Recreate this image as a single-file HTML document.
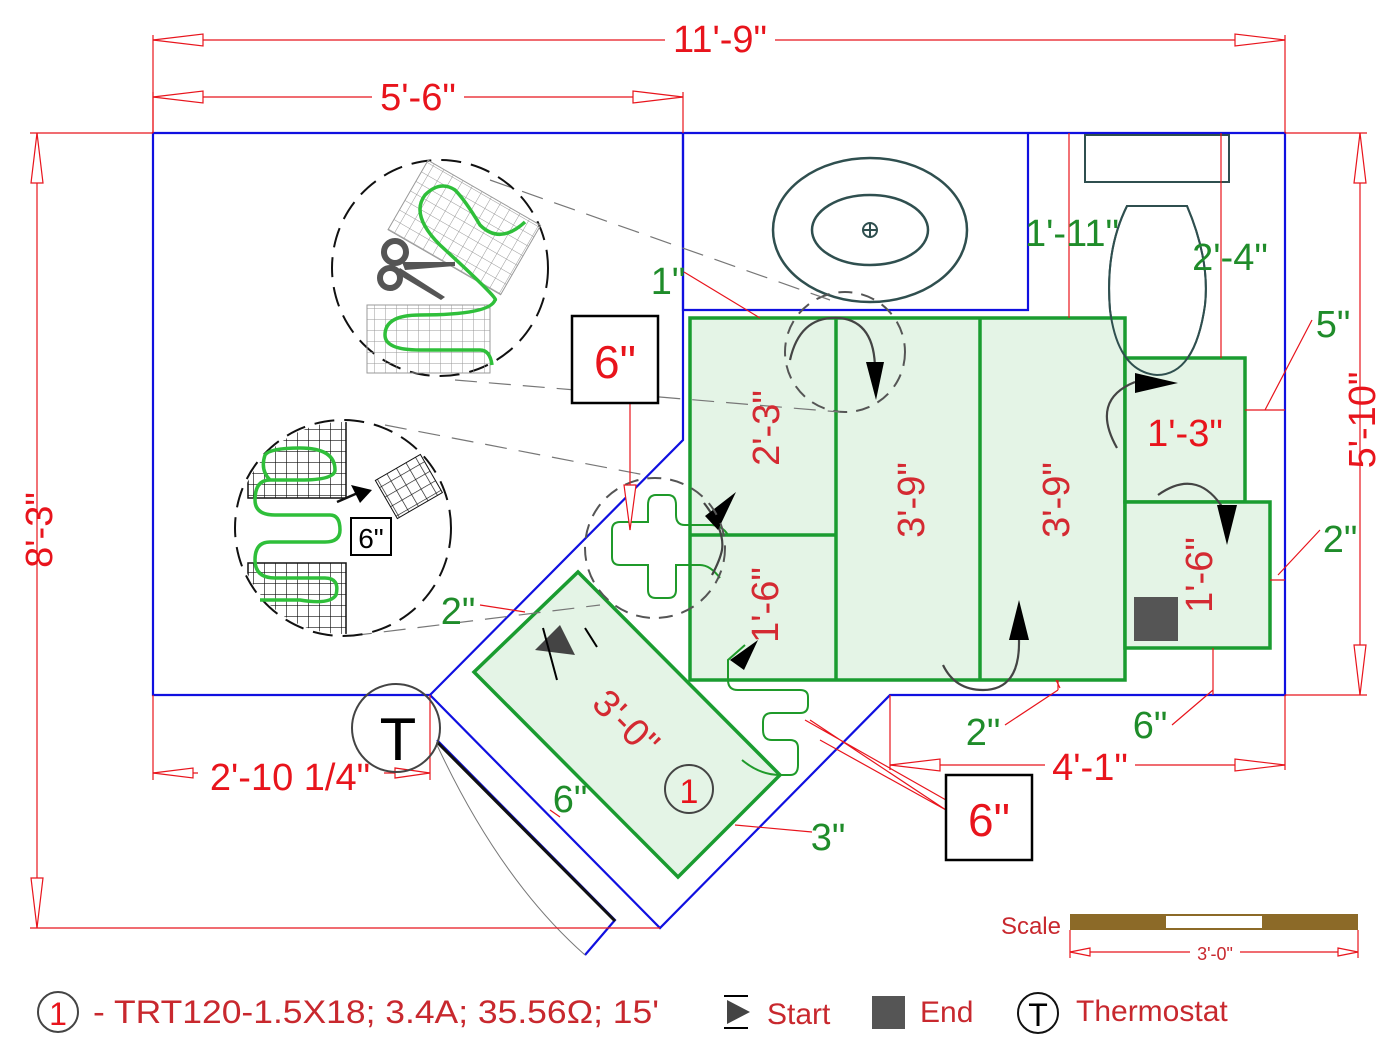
<!DOCTYPE html>
<html><head><meta charset="utf-8"><style>
html,body{margin:0;padding:0;background:#fff;}
svg{display:block;font-family:"Liberation Sans",sans-serif;}
.r{fill:#e8141c}
.g{fill:#1f8c2a}
.dl{stroke:#e8141c;stroke-width:1.2;fill:none}
.ar{stroke:#e8141c;stroke-width:1.2;fill:#fff}
.bl{stroke:#1010e0;stroke-width:2.2;fill:none}
.gz{stroke:#1a9c30;stroke-width:3.5;fill:#e4f4e6}
.ds{stroke:#555;stroke-width:2;fill:none;stroke-dasharray:14 9}
.db{stroke:#111;stroke-width:2;fill:none;stroke-dasharray:20 10}
.gl{stroke:#777;stroke-width:1.2;fill:none;stroke-dasharray:22 12}
.cab{stroke:#2fbf3a;stroke-width:3.5;fill:none}
.cabd{stroke:#1f9a2a;stroke-width:2;fill:none}
.curv{stroke:#444;stroke-width:2.2;fill:none}
</style></head><body>
<svg width="1400" height="1049" viewBox="0 0 1400 1049" xmlns="http://www.w3.org/2000/svg">
<defs>
<pattern id="gg" width="11" height="11" patternUnits="userSpaceOnUse"><path d="M0 0H11M0 0V11" stroke="#999" stroke-width="1" fill="none"/></pattern>
<pattern id="gb" width="11" height="11" patternUnits="userSpaceOnUse"><path d="M0 0H11M0 0V11" stroke="#111" stroke-width="1.3" fill="none"/></pattern>
</defs>

<!-- walls -->
<path class="bl" d="M153 133H1285V695H890L660 928L430 695H153Z"/>
<path class="bl" d="M683 133V440L430 695"/>
<path class="bl" d="M683 133V310H1028V133"/>
<path class="bl" d="M437 740L615 920L585 955"/>
<path d="M437 742L615 921" stroke="#111" stroke-width="3"/>
<path d="M437 745Q500 880 585 955" stroke="#777" stroke-width="1" fill="none"/>

<!-- vanity -->
<ellipse cx="870" cy="230" rx="97" ry="72" fill="none" stroke="#2f4f4f" stroke-width="2.5"/>
<ellipse cx="870" cy="230" rx="58" ry="35" fill="none" stroke="#2f4f4f" stroke-width="2.5"/>
<circle cx="870" cy="230" r="7" fill="none" stroke="#2f4f4f" stroke-width="2"/><path d="M863 230H877M870 223V237" stroke="#2f4f4f" stroke-width="2"/>
<!-- toilet -->
<rect x="1085" y="135" width="144" height="47" fill="none" stroke="#2f4f4f" stroke-width="2"/>
<path d="M1127 206H1187Q1210 260 1205 305Q1195 375 1157 375Q1118 372 1110 310Q1105 250 1127 206Z" fill="none" stroke="#2f4f4f" stroke-width="2"/>

<!-- green zones -->
<path class="gz" d="M690 318H1125V680H690Z"/>
<path d="M836 318V680M980 318V680M690 535H836" stroke="#1a9c30" stroke-width="3.5"/>
<path class="gz" d="M1125 358H1245V502H1125Z"/>
<path class="gz" d="M1125 502H1270V648H1125Z"/>
<path class="gz" d="M578 572L780 775L678 877L474 672Z"/>
<rect x="1134" y="597" width="44" height="44" fill="#555"/>

<!-- toilet bowl over zone -->
<path d="M1127 206H1187Q1210 260 1205 305Q1195 375 1157 375Q1118 372 1110 310Q1105 250 1127 206Z" fill="none" stroke="#2f4f4f" stroke-width="2"/>

<!-- cable wiggle -->
<path class="cabd" d="M742 760Q760 775 780 775H790Q798 775 798 765V748Q798 740 790 740H772Q763 740 763 730V722Q763 713 772 713H800Q808 713 808 705V697Q808 690 800 690H738Q728 690 728 680V660L745 645"/>
<path class="cabd" d="M728 535Q722 525 710 525H685Q676 525 676 515V505Q676 495 668 495H656Q648 495 648 505V522H620Q612 522 612 530V557Q612 565 620 565H648V590Q648 598 656 598H668Q676 598 676 590V565H700Q710 565 720 578"/>

<!-- curved arrows -->
<path class="curv" d="M790 360Q800 315 840 318Q875 322 875 370"/>
<path d="M866 362L884 362L876 400Z" fill="#000"/>
<path class="curv" d="M1117 448Q1090 400 1135 382"/>
<path d="M1135 373L1178 383L1135 393Z" fill="#000"/>
<path class="curv" d="M1158 495Q1200 465 1227 515"/>
<path d="M1217 505L1237 505L1227 545Z" fill="#000"/>
<path class="curv" d="M943 665Q955 690 983 690Q1020 690 1019 640"/>
<path d="M1009 640L1029 640L1019 600Z" fill="#000"/>
<path class="curv" d="M704 503Q725 530 722 550Q720 560 712 575"/>
<path d="M705 516L736 492L718 530Z" fill="#000"/>
<path d="M730 660L758 640L744 670Z" fill="#000"/>
<path d="M560 625L575 655L535 650Z" fill="#444"/>
<path d="M543 628L557 680" stroke="#000" stroke-width="2"/>
<path d="M585 628L597 647" stroke="#000" stroke-width="2"/>

<!-- dashed circles -->
<circle cx="845" cy="352" r="60" class="ds"/>
<circle cx="655" cy="548" r="70" class="ds"/>
<path class="gl" d="M490 180L830 300M455 380L840 412M385 425L650 476M350 636L600 605"/>
<circle cx="440" cy="268" r="108" class="db"/>
<circle cx="343" cy="528" r="108" class="db"/>

<!-- circle 1 content -->
<g transform="rotate(30 460 225)"><rect x="400" y="185" width="130" height="80" fill="url(#gg)" stroke="#999"/></g>
<rect x="367" y="305" width="123" height="68" fill="url(#gg)" stroke="#999"/>
<path class="cab" d="M525 222Q500 245 480 225Q465 200 455 190Q440 180 425 195Q410 215 440 245Q500 300 495 300Q490 315 420 315Q385 315 385 335Q385 350 420 350H480Q490 350 492 365"/>
<g fill="#555" stroke="none">
<circle cx="395" cy="252" r="11" fill="none" stroke="#555" stroke-width="6"/>
<circle cx="390" cy="278" r="10" fill="none" stroke="#555" stroke-width="6"/>
<path d="M402 262L455 262L455 266L405 270Z"/>
<path d="M400 268L445 297L441 300L396 273Z"/>
</g>
<!-- circle 2 content -->
<clipPath id="c2"><circle cx="343" cy="528" r="106"/></clipPath>
<g clip-path="url(#c2)">
<rect x="248" y="420" width="98" height="78" fill="url(#gb)" stroke="#111" stroke-width="1.5"/>
<rect x="248" y="563" width="98" height="78" fill="url(#gb)" stroke="#111" stroke-width="1.5"/>
</g>
<g transform="rotate(-30 408 487)"><rect x="383" y="465" width="52" height="44" fill="url(#gb)" stroke="#111"/></g>
<path class="cab" d="M270 480Q260 470 265 455Q270 448 300 448Q335 448 335 470Q335 480 300 480H270Q255 480 255 500Q255 515 275 515H330Q340 515 340 530Q340 542 325 542H270Q255 542 255 560Q255 578 275 578H325Q340 578 336 595Q330 605 300 600H260"/>
<path d="M337 502L360 492" stroke="#111" stroke-width="2.5"/><path d="M351 485L372 490L360 503Z" fill="#000"/>
<rect x="351" y="518" width="40" height="37" fill="#fff" stroke="#000" stroke-width="2"/>
<text x="371" y="548" font-size="28" text-anchor="middle">6"</text>

<!-- dimension lines -->
<g class="dl">
<path d="M153 35V133M1285 35V133M153 40H1285"/>
<path d="M153 92V133M683 92V133M153 97H683"/>
<path d="M30 133H153M30 928H660M37 133V928"/>
<path d="M1285 133H1367M1285 695H1367M1360 133V695"/>
<path d="M153 695V780M430 695V780M153 773H430"/>
<path d="M890 695V770M1285 695V770M890 765H1285"/>
<path d="M1069 133V318M1221 133V358"/>
<path d="M684 272L760 318M1245 410H1285M1265 410L1312 320M1270 580H1285M1278 575L1320 530M1213 648V695M1213 690L1172 725M1058 680V690M1058 690L1005 725"/>
<path d="M1056 680L1060 688"/>
<path d="M480 605L525 612M735 825L812 832M560 817L550 810"/>
<path d="M630 403V530M946 810L810 720M946 800L805 720M946 810L820 740"/>
<path d="M1070 930V958M1358 930V958M1070 952H1358"/>
</g>
<g class="ar">
<path d="M153 40L203 34V46Z"/><path d="M1285 40L1235 34V46Z"/>
<path d="M153 97L203 91V103Z"/><path d="M683 97L633 91V103Z"/>
<path d="M37 133L31 183H43Z"/><path d="M37 928L31 878H43Z"/>
<path d="M1360 133L1354 183H1366Z"/><path d="M1360 695L1354 645H1366Z"/>
<path d="M153 773L193 768V778Z"/><path d="M430 773L395 768V778Z"/>
<path d="M890 765L940 759V771Z"/><path d="M1285 765L1235 759V771Z"/>
<path d="M630 530L624 485H636Z"/>
<path d="M1070 952L1090 948V956Z"/><path d="M1358 952L1338 948V956Z"/>
</g>

<!-- red dimension texts -->
<g class="r" font-size="38">
<rect x="665" y="22" width="110" height="34" fill="#fff"/>
<text x="720" y="52" text-anchor="middle">11'-9"</text>
<rect x="372" y="80" width="92" height="34" fill="#fff"/>
<text x="418" y="110" text-anchor="middle">5'-6"</text>
<text transform="translate(52 530) rotate(-90)" text-anchor="middle">8'-3"</text>
<text transform="translate(1375 420) rotate(-90)" text-anchor="middle">5'-10"</text>
<rect x="198" y="758" width="186" height="32" fill="#fff"/>
<text x="290" y="790" text-anchor="middle">2'-10 1/4"</text>
<rect x="1045" y="748" width="90" height="32" fill="#fff"/>
<text x="1090" y="780" text-anchor="middle">4'-1"</text>
<text x="1185" y="446" text-anchor="middle">1'-3"</text>
</g>
<g fill="#d42a32" font-size="38">
<text transform="translate(779 428) rotate(-90)" text-anchor="middle">2'-3"</text>
<text transform="translate(924 500) rotate(-90)" text-anchor="middle">3'-9"</text>
<text transform="translate(1069 500) rotate(-90)" text-anchor="middle">3'-9"</text>
<text transform="translate(778 605) rotate(-90)" text-anchor="middle">1'-6"</text>
<text transform="translate(1212 575) rotate(-90)" text-anchor="middle">1'-6"</text>
<text transform="translate(617 732) rotate(45)" text-anchor="middle">3'-0"</text>
</g>
<!-- green dims -->
<g class="g" font-size="38">
<text x="668" y="294" text-anchor="middle">1"</text>
<text x="1072" y="246" text-anchor="middle">1'-11"</text>
<text x="1230" y="270" text-anchor="middle">2'-4"</text>
<text x="1333" y="337" text-anchor="middle">5"</text>
<text x="1340" y="552" text-anchor="middle">2"</text>
<text x="1150" y="738" text-anchor="middle">6"</text>
<text x="983" y="745" text-anchor="middle">2"</text>
<text x="828" y="850" text-anchor="middle">3"</text>
<text x="570" y="812" text-anchor="middle">6"</text>
<text x="458" y="624" text-anchor="middle">2"</text>
</g>

<!-- 6" boxes -->
<rect x="572" y="316" width="86" height="87" fill="#fff" stroke="#000" stroke-width="2.5"/>
<text x="615" y="378" font-size="46" text-anchor="middle" class="r">6"</text>
<rect x="946" y="775" width="86" height="85" fill="#fff" stroke="#000" stroke-width="2.5"/>
<text x="989" y="836" font-size="46" text-anchor="middle" class="r">6"</text>

<!-- thermostat & 1 -->
<circle cx="396" cy="728" r="44" fill="none" stroke="#444" stroke-width="2"/>
<text x="398" y="760" font-size="60" text-anchor="middle">T</text>
<circle cx="689" cy="789" r="24" fill="none" stroke="#444" stroke-width="2"/>
<text x="689" y="803" font-size="34" text-anchor="middle" class="r">1</text>

<!-- scale -->
<text x="1061" y="934" font-size="24" text-anchor="end" fill="#c8282e">Scale</text>
<rect x="1070" y="914" width="288" height="16" fill="#8c6a28"/>
<rect x="1166" y="916" width="96" height="12" fill="#fff"/>
<rect x="1190" y="942" width="50" height="18" fill="#fff"/>
<text x="1215" y="960" font-size="18" text-anchor="middle" fill="#c8282e">3'-0"</text>

<!-- legend -->
<circle cx="58" cy="1012" r="20" fill="none" stroke="#444" stroke-width="2"/>
<text x="58" y="1025" font-size="32" text-anchor="middle" class="r">1</text>
<text x="93" y="1023" font-size="32" fill="#c8282e" textLength="566" lengthAdjust="spacingAndGlyphs">- TRT120-1.5X18; 3.4A; 35.56Ω; 15'</text>
<path d="M724 996H748M724 1028H748" stroke="#000" stroke-width="2"/>
<path d="M727 1000L750 1012L727 1024Z" fill="#444"/>
<text x="767" y="1024" font-size="30" fill="#c8282e">Start</text>
<rect x="872" y="996" width="33" height="33" fill="#555"/>
<text x="920" y="1022" font-size="30" fill="#c8282e">End</text>
<circle cx="1038" cy="1013" r="20" fill="none" stroke="#111" stroke-width="2"/>
<text x="1038" y="1026" font-size="32" text-anchor="middle">T</text>
<text x="1076" y="1021" font-size="30" fill="#c8282e">Thermostat</text>
</svg>
</body></html>
